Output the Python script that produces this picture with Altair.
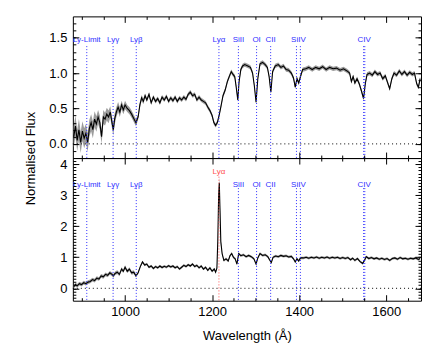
import altair as alt
import pandas as pd

FONT = "Liberation Sans"

# ---------------- data ----------------
wave_top = [882, 886, 890, 894, 898, 902, 906, 910, 914, 918,
            922, 926, 930, 934, 938, 942, 946, 950, 954, 958,
            962, 966, 970, 973, 976, 980, 984, 988, 992, 996,
            1000, 1005, 1010, 1015, 1020, 1025, 1030, 1034, 1038, 1042,
            1046, 1050, 1055, 1060, 1065, 1070, 1075, 1080, 1085, 1090,
            1095, 1100, 1105, 1110, 1115, 1120, 1125, 1130, 1135, 1140,
            1145, 1150, 1155, 1160, 1165, 1170, 1175, 1180, 1185, 1190,
            1195, 1200, 1204, 1208, 1212, 1216, 1220, 1225, 1230, 1235,
            1240, 1244, 1248, 1252, 1255, 1259, 1262, 1266, 1270, 1275,
            1282, 1288, 1293, 1297, 1301, 1305, 1310, 1316, 1322, 1327,
            1331, 1335, 1339, 1345, 1352, 1358, 1364, 1370, 1376, 1382,
            1387, 1391, 1395, 1399, 1403, 1408, 1415, 1422, 1430, 1438,
            1446, 1454, 1462, 1470, 1478, 1486, 1494, 1502, 1510, 1516,
            1520, 1524, 1528, 1533, 1538, 1543, 1548, 1552, 1556, 1562,
            1568, 1574, 1580, 1586, 1592, 1598, 1604, 1608, 1613, 1618,
            1624, 1630, 1636, 1642, 1648, 1654, 1660, 1665, 1670, 1674,
            1678]
flux_top = [0.10, 0.25, 0.05, 0.20, 0.02, 0.18, 0.08, 0.15, 0.02, 0.22,
            0.30, 0.20, 0.35, 0.28, 0.38, 0.30, 0.10, 0.38, 0.35, 0.42,
            0.38, 0.45, 0.30, 0.20, 0.35, 0.45, 0.52, 0.45, 0.55, 0.48,
            0.55, 0.50, 0.47, 0.42, 0.36, 0.30, 0.38, 0.55, 0.65, 0.60,
            0.68, 0.62, 0.70, 0.58, 0.66, 0.60, 0.64, 0.58, 0.66, 0.62,
            0.67, 0.60, 0.65, 0.61, 0.66, 0.60, 0.65, 0.62, 0.66, 0.63,
            0.70, 0.73, 0.68, 0.70, 0.62, 0.66, 0.62, 0.60, 0.58, 0.52,
            0.47, 0.40, 0.30, 0.26, 0.30, 0.40, 0.52, 0.68, 0.76, 0.88,
            0.96, 1.02, 0.98, 0.95, 0.82, 0.62, 0.88, 1.05, 1.10, 1.12,
            1.10, 1.08, 1.00, 0.82, 0.59, 0.92, 1.13, 1.15, 1.12, 1.08,
            0.95, 0.73, 1.02, 1.10, 1.12, 1.08, 1.10, 1.05, 1.04, 1.00,
            0.93, 0.80, 0.92, 0.86, 0.95, 1.05, 1.06, 1.08, 1.05, 1.08,
            1.06, 1.09, 1.05, 1.08, 1.06, 1.07, 1.04, 1.06, 1.03, 1.00,
            0.88, 0.95, 0.86, 0.92, 0.85, 0.75, 0.64, 0.85, 0.98, 1.00,
            0.97, 1.02, 0.98, 1.00, 0.92, 0.96, 0.85, 0.78, 0.92, 1.00,
            0.97, 1.03, 0.98, 1.02, 0.97, 1.01, 0.98, 1.00, 0.85, 0.80,
            0.92]
err_top = [0.15, 0.15, 0.15, 0.15, 0.15, 0.14, 0.14, 0.13, 0.13, 0.12,
           0.12, 0.12, 0.11, 0.11, 0.10, 0.10, 0.10, 0.10, 0.09, 0.09,
           0.09, 0.08, 0.08, 0.08, 0.08, 0.07, 0.07, 0.07, 0.06, 0.06,
           0.06, 0.05, 0.05, 0.05, 0.05, 0.05, 0.04, 0.04, 0.04, 0.04] + [0.03] * 121

wave_bot = [882, 886, 890, 895, 900, 905, 910, 915, 920, 925,
            930, 935, 940, 945, 950, 955, 960, 965, 970, 973,
            977, 982, 987, 992, 996, 1000, 1005, 1010, 1015, 1020,
            1025, 1030, 1035, 1040, 1045, 1050, 1055, 1060, 1065, 1070,
            1075, 1080, 1085, 1090, 1095, 1100, 1105, 1110, 1115, 1120,
            1125, 1130, 1135, 1140, 1145, 1150, 1155, 1160, 1165, 1170,
            1175, 1180, 1185, 1190, 1195, 1200, 1205, 1208, 1211, 1213,
            1215, 1216.5, 1218, 1220, 1223, 1227, 1232, 1237, 1241, 1245,
            1249, 1253, 1257, 1261, 1266, 1272, 1278, 1284, 1290, 1296,
            1301, 1305, 1310, 1316, 1322, 1328, 1332, 1336, 1340, 1346,
            1352, 1358, 1364, 1370, 1376, 1382, 1387, 1391, 1395, 1399,
            1403, 1410, 1416, 1422, 1428, 1434, 1440, 1446, 1452, 1458,
            1464, 1470, 1476, 1482, 1488, 1494, 1500, 1506, 1512, 1518,
            1523, 1528, 1534, 1540, 1546, 1550, 1554, 1560, 1566, 1572,
            1578, 1584, 1590, 1596, 1602, 1608, 1614, 1620, 1626, 1632,
            1638, 1644, 1650, 1656, 1662, 1668, 1674, 1678]
flux_bot = [0.05, 0.12, 0.08, 0.15, 0.12, 0.18, 0.15, 0.20, 0.22, 0.28,
            0.25, 0.33, 0.30, 0.40, 0.37, 0.45, 0.42, 0.50, 0.45, 0.40,
            0.48, 0.52, 0.45, 0.62, 0.55, 0.68, 0.55, 0.62, 0.50, 0.52,
            0.40, 0.50, 0.70, 0.85, 0.75, 0.78, 0.68, 0.72, 0.64, 0.70,
            0.66, 0.72, 0.67, 0.71, 0.68, 0.73, 0.69, 0.72, 0.66, 0.70,
            0.62, 0.68, 0.74, 0.70, 0.76, 0.72, 0.78, 0.70, 0.74, 0.66,
            0.72, 0.62, 0.68, 0.58, 0.66, 0.55, 0.62, 0.52, 0.65, 1.50,
            3.00, 3.40, 2.60, 1.50, 1.12, 0.90, 0.95, 0.88, 1.05, 1.12,
            1.00, 0.95, 0.78, 1.12, 1.05, 1.08, 1.02, 1.06, 1.02, 0.95,
            0.78, 0.98, 1.12, 1.06, 1.08, 1.02, 0.92, 0.83, 1.00, 1.04,
            1.02, 1.06, 1.03, 1.05, 1.01, 1.03, 0.95, 0.85, 0.95, 0.88,
            0.98, 0.98, 1.00, 0.97, 1.00, 0.98, 1.01, 0.97, 1.00, 0.98,
            1.01, 0.97, 1.00, 0.98, 1.00, 0.96, 0.99, 0.96, 0.99, 0.92,
            0.97, 0.90, 0.96, 0.86, 0.80, 0.90, 1.02, 0.96, 0.99, 0.95,
            0.98, 0.94, 0.97, 0.93, 0.96, 0.90, 0.96, 0.98, 0.94, 0.99,
            0.95, 0.97, 0.94, 0.97, 0.95, 0.98, 0.93, 0.96]
err_bot = ([0.06] * 30 + [0.04] * 38
           + [0.05, 0.10, 0.15, 0.20, 0.15, 0.10] + [0.04] * 84)

# spectral line markers
line_names = ["Ly-Limit", "Lyγ", "Lyβ", "Lyα", "SiII", "OI", "CII",
              "SiIV", "SiIV", "CIV", "CIV"]
line_waves = [912.0, 972.5, 1025.7, 1215.67, 1260.4, 1302.2, 1334.5,
              1393.8, 1402.8, 1548.2, 1550.8]
label_names = ["Ly-Limit", "Lyγ", "Lyβ", "Lyα", "SiII", "OI", "CII", "SiIV", "CIV"]
label_waves = [912.0, 972.5, 1025.7, 1215.67, 1260.4, 1302.2, 1334.5, 1398.3, 1549.5]

x_domain = [880, 1680]
x_major = [1000, 1200, 1400, 1600]
x_minor = [900, 950, 1050, 1100, 1150, 1250, 1300, 1350, 1450, 1500, 1550, 1650]

top_domain = [-0.2, 1.8]
top_major = [0.0, 0.5, 1.0, 1.5]
top_minor = [round(-0.1 + 0.1 * i, 1) for i in range(19)]
bot_domain = [-0.4, 4.2]
bot_major = [0, 1, 2, 3, 4]
bot_minor = [round(-0.3 + 0.1 * i, 1) for i in range(45)]

W = 349
H_TOP = 142
H_BOT = 143
BLUE = "#2f2fff"
RED = "#ff5050"

xs = alt.Scale(domain=x_domain, nice=False, zero=False)


def xaxis(orient, values, size, labels=False, title=None):
    kw = dict(orient=orient, values=values, tickSize=size, offset=-size,
              labels=labels, domain=False, grid=False, ticks=True,
              tickColor="black", tickWidth=1, zindex=2, title=title)
    if labels:
        kw.update(labelFontSize=13, labelPadding=5, labelFont=FONT,
                  labelColor="black", format="d")
    if title:
        kw.update(titleFontSize=13, titleFont=FONT, titleFontWeight="normal",
                  titleColor="black", titlePadding=11)
    return alt.Axis(**kw)


def yaxis(orient, values, size, labels=False, fmt=None, title=None, title_y=None):
    kw = dict(orient=orient, values=values, tickSize=size, offset=-size,
              labels=labels, domain=False, grid=False, ticks=True,
              tickColor="black", tickWidth=1, zindex=2, title=title)
    if labels:
        kw.update(labelFontSize=13, labelPadding=6, labelFont=FONT,
                  labelColor="black", format=fmt)
    if title:
        kw.update(titleFontSize=13, titleFont=FONT, titleFontWeight="normal",
                  titleColor="black", titleX=-48, titleY=title_y,
                  titleAngle=270, titleAlign="center", titleBaseline="middle")
    return alt.Axis(**kw)


def panel(wave, flux, err, ydom, ymaj, ymin, fmt, height, label_y, rule_top,
          red_label_y, red_rule_top, lya_red, bottom_labels, ytitle):
    ys = alt.Scale(domain=ydom, nice=False, zero=False)
    df = pd.DataFrame({"wave": wave, "flux": flux, "err": err})
    df["lo"] = df["flux"] - df["err"]
    df["hi"] = df["flux"] + df["err"]

    band = alt.Chart(df).mark_area(color="#9c9c9c").encode(
        x=alt.X("wave:Q", scale=xs,
                axis=xaxis("bottom", x_major, 6, labels=bottom_labels,
                           title="Wavelength (Å)" if bottom_labels else None)),
        y=alt.Y("lo:Q", scale=ys,
                axis=yaxis("left", ymaj, 6, labels=True, fmt=fmt,
                           title=ytitle, title_y=height if ytitle else None)),
        y2="hi:Q",
    )
    line = alt.Chart(df).mark_line(color="black", strokeWidth=1.1).encode(
        x=alt.X("wave:Q", scale=xs, axis=xaxis("bottom", x_minor, 3)),
        y=alt.Y("flux:Q", scale=ys, axis=yaxis("left", ymin, 3)),
    )
    car1 = alt.Chart(df).mark_line(opacity=0).encode(
        x=alt.X("wave:Q", scale=xs, axis=xaxis("top", x_major, 6)),
        y=alt.Y("flux:Q", scale=ys, axis=yaxis("right", ymaj, 6)),
    )
    car2 = alt.Chart(df).mark_line(opacity=0).encode(
        x=alt.X("wave:Q", scale=xs, axis=xaxis("top", x_minor, 3)),
        y=alt.Y("flux:Q", scale=ys, axis=yaxis("right", ymin, 3)),
    )

    zero_df = pd.DataFrame({"y": [0.0], "xa": [x_domain[0]], "xb": [x_domain[1]]})
    zero = alt.Chart(zero_df).mark_rule(color="black", strokeWidth=1,
                                        strokeDash=[1, 3]).encode(
        x=alt.X("xa:Q", scale=xs, axis=None), x2="xb:Q",
        y=alt.Y("y:Q", scale=ys, axis=None),
    )

    ldf = pd.DataFrame({"name": line_names, "wave": line_waves})
    ldf["bottom"] = ydom[0]
    is_red = (ldf["name"] == "Lyα") & lya_red
    ldf["top"] = [red_rule_top if r else rule_top for r in is_red]
    blue_rules = alt.Chart(ldf[~is_red]).mark_rule(color=BLUE, strokeWidth=1,
                                                   strokeDash=[1, 2]).encode(
        x=alt.X("wave:Q", scale=xs, axis=None),
        y=alt.Y("top:Q", scale=ys, axis=None), y2="bottom:Q",
    )
    layers = [band, line, car1, car2, zero, blue_rules]

    tdf = pd.DataFrame({"name": label_names, "wave": label_waves})
    t_red = (tdf["name"] == "Lyα") & lya_red
    tdf["ypos"] = [red_label_y if r else label_y for r in t_red]
    blue_text = alt.Chart(tdf[~t_red]).mark_text(
        color=BLUE, font=FONT, fontSize=8, baseline="middle", align="center"
    ).encode(
        x=alt.X("wave:Q", scale=xs, axis=None),
        y=alt.Y("ypos:Q", scale=ys, axis=None),
        text="name:N",
    )
    layers.append(blue_text)
    if lya_red:
        red_rules = alt.Chart(ldf[is_red]).mark_rule(color=RED, strokeWidth=1,
                                                     strokeDash=[1, 2]).encode(
            x=alt.X("wave:Q", scale=xs, axis=None),
            y=alt.Y("top:Q", scale=ys, axis=None), y2="bottom:Q",
        )
        red_text = alt.Chart(tdf[t_red]).mark_text(
            color=RED, font=FONT, fontSize=8, baseline="middle", align="center"
        ).encode(
            x=alt.X("wave:Q", scale=xs, axis=None),
            y=alt.Y("ypos:Q", scale=ys, axis=None),
            text="name:N",
        )
        layers += [red_rules, red_text]

    return alt.layer(*layers).resolve_axis(
        x="independent", y="independent"
    ).properties(width=W, height=height)


top = panel(wave_top, flux_top, err_top, top_domain, top_major, top_minor, ".1f",
            H_TOP, 1.46, 1.38, 1.46, 1.38, False, False, "Normalised Flux")
bottom = panel(wave_bot, flux_bot, err_bot, bot_domain, bot_major, bot_minor, "d",
               H_BOT, 3.34, 3.23, 3.76, 3.60, True, True, None)

chart = alt.vconcat(top, bottom, spacing=0).properties(
    bounds="flush",
    padding={"left": 16, "top": 7, "right": 5, "bottom": 5},
).configure_view(stroke="black", strokeWidth=1)

chart.save("out.html", embed_options={"renderer": "svg", "actions": False})
